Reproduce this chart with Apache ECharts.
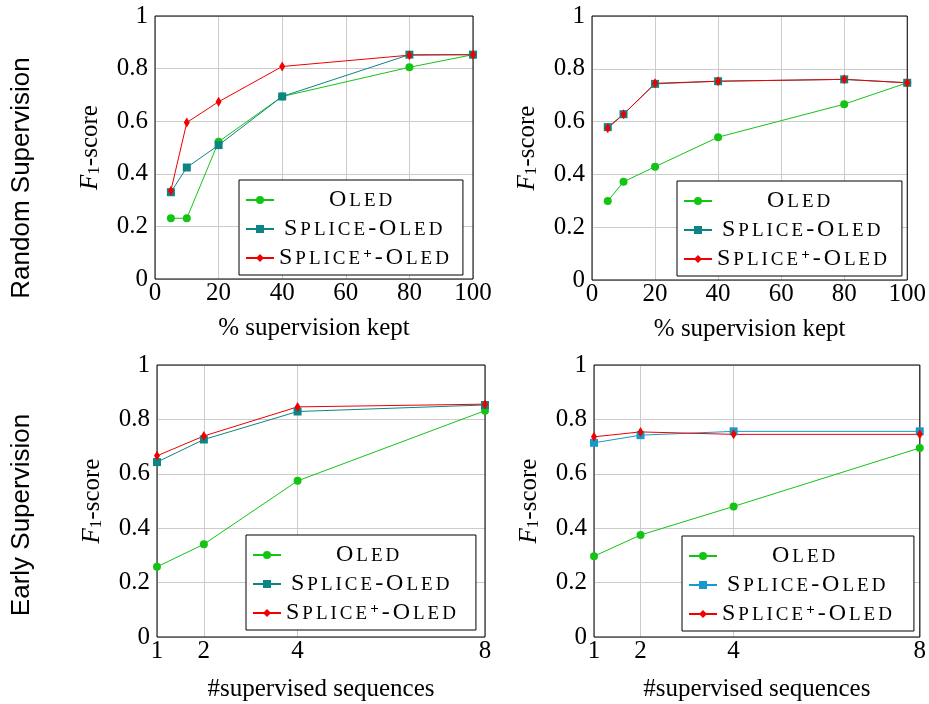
<!DOCTYPE html>
<html>
<head>
<meta charset="utf-8">
<script src="https://cdn.jsdelivr.net/npm/echarts@6/dist/echarts.min.js"></script>
<style>
  html, body { margin: 0; padding: 0; background: #fff; }
  #chart { width: 929px; height: 704px; }
</style>
</head>
<body>
<div id="chart"></div>
<script>
// x positions
var keptPct = [5, 10, 20, 40, 80, 100];
var seqCount = [1, 2, 4, 8];
var keptTicks = [0, 20, 40, 60, 80, 100];
var seqTicks = [1, 2, 4, 8];

// random supervision, left panel
var randAOled = [0.231, 0.231, 0.522, 0.694, 0.805, 0.853];
var randASplice = [0.330, 0.424, 0.509, 0.694, 0.853, 0.853];
var randASplicePlus = [0.336, 0.595, 0.674, 0.808, 0.851, 0.853];

// random supervision, right panel
var randBOled = [0.299, 0.372, 0.429, 0.541, 0.666, 0.747];
var randBSplice = [0.579, 0.628, 0.743, 0.753, 0.760, 0.747];
var randBSplicePlus = [0.575, 0.628, 0.745, 0.753, 0.760, 0.747];

// early supervision, left panel
var earlyAOled = [0.258, 0.341, 0.574, 0.832];
var earlyASplice = [0.643, 0.726, 0.829, 0.853];
var earlyASplicePlus = [0.666, 0.739, 0.846, 0.856];

// early supervision, right panel
var earlyBOled = [0.297, 0.375, 0.480, 0.695];
var earlyBSplice = [0.714, 0.742, 0.756, 0.756];
var earlyBSplicePlus = [0.736, 0.754, 0.745, 0.745];

var rowLabels = ["Random Supervision", "Early Supervision"];
var xNames = ["% supervision kept", "#supervised sequences"];

var SERIF = "Liberation Serif";
var GREEN = "#14c414";
var TEAL = "#0e8585";
var BLUE = "#1799cc";
var RED = "#f00000";
var DIAMOND = "path://M0,-5L3,0L0,5L-3,0Z";

// small caps: upper case stays big, lower case becomes a smaller capital
function smallCaps(word) {
  var out = "";
  for (var i = 0; i < word.length; i++) {
    var ch = word[i];
    if (ch === "+") out += "{sup|+}";
    else if (ch === "-") out += "{B|-}";
    else if (ch === ch.toUpperCase()) out += "{B|" + ch + "}";
    else out += "{s|" + ch.toUpperCase() + "}";
  }
  return out;
}

var legendText = {
  oled: "{pad0|}" + smallCaps("Oled"),
  splice: "{pad1|}" + smallCaps("Splice-Oled"),
  plus: smallCaps("Splice+-Oled")
};

var legendRich = {
  B: { fontFamily: SERIF, fontSize: 24, lineHeight: 22, color: "#000", padding: [0, 3, 0, 0] },
  s: { fontFamily: SERIF, fontSize: 19, lineHeight: 22, color: "#000", padding: [0, 3, 0, 0], verticalAlign: "bottom" },
  sup: { fontFamily: SERIF, fontSize: 15, fontWeight: "bold", lineHeight: 14, color: "#000", padding: [0, 3, 0, 0], verticalAlign: "top" },
  pad0: { width: 50 },
  pad1: { width: 5 }
};

var panels = [
  { left: 155, top: 16, width: 318, height: 263, xs: keptPct, ticks: keptTicks, xmin: 0, xmax: 100, xname: 0, nameGap: 37,
    oled: randAOled, splice: randASplice, plus: randASplicePlus, spliceColor: TEAL, legend: [239, 180], padRight: 11 },
  { left: 592, top: 16, width: 318, height: 264, xs: keptPct, ticks: keptTicks, xmin: 0, xmax: 100, xname: 0, nameGap: 37,
    oled: randBOled, splice: randBSplice, plus: randBSplicePlus, spliceColor: TEAL, legend: [677, 181], padRight: 12 },
  { left: 157, top: 365, width: 328, height: 272, xs: seqCount, ticks: seqTicks, xmin: 1, xmax: 8, xname: 1, nameGap: 40,
    oled: earlyAOled, splice: earlyASplice, plus: earlyASplicePlus, spliceColor: TEAL, legend: [246, 535], padRight: 17 },
  { left: 594, top: 365, width: 328, height: 272, xs: seqCount, ticks: seqTicks, xmin: 1, xmax: 8, xname: 1, nameGap: 40,
    oled: earlyBOled, splice: earlyBSplice, plus: earlyBSplicePlus, spliceColor: BLUE, legend: [682, 536], padRight: 19 }
];

function pairs(xs, ys) {
  return xs.map(function (x, i) { return [x, ys[i]]; });
}

var grid = [], xAxis = [], yAxis = [], series = [], legend = [];

panels.forEach(function (p, k) {
  grid.push({
    left: p.left, top: p.top, width: p.width, height: p.height,
    show: true, borderColor: "#000", borderWidth: 1, backgroundColor: "transparent", z: 1
  });
  xAxis.push({
    type: "value", gridIndex: k, min: p.xmin, max: p.xmax,
    name: xNames[p.xname], nameLocation: "middle", nameGap: p.nameGap,
    nameTextStyle: { fontFamily: SERIF, fontSize: 25, color: "#000" },
    axisLine: { show: false },
    axisTick: { show: false, customValues: p.ticks },
    axisLabel: { customValues: p.ticks, fontFamily: SERIF, fontSize: 25, color: "#000", margin: 2 },
    splitLine: { show: true, lineStyle: { color: "#cccccc", width: 1 } }
  });
  yAxis.push({
    type: "value", gridIndex: k, min: 0, max: 1, interval: 0.2,
    name: "{F|F}{sub|1}{t|-score}", nameLocation: "middle", nameGap: 52, nameRotate: 90,
    nameTextStyle: {
      rich: {
        F: { fontFamily: SERIF, fontStyle: "italic", fontSize: 25, lineHeight: 25, color: "#000" },
        sub: { fontFamily: SERIF, fontSize: 17, lineHeight: 17, color: "#000", verticalAlign: "bottom" },
        t: { fontFamily: SERIF, fontSize: 25, lineHeight: 25, color: "#000" }
      }
    },
    axisLine: { show: false },
    axisTick: { show: false },
    axisLabel: { fontFamily: SERIF, fontSize: 25, color: "#000", margin: 7 },
    splitLine: { show: true, lineStyle: { color: "#cccccc", width: 1 } }
  });

  var names = ["oled-" + k, "splice-" + k, "plus-" + k];
  series.push({
    name: names[0], type: "line", xAxisIndex: k, yAxisIndex: k,
    data: pairs(p.xs, p.oled), symbol: "circle", symbolSize: 8,
    color: GREEN, lineStyle: { width: 1, color: GREEN }, animation: false
  });
  series.push({
    name: names[1], type: "line", xAxisIndex: k, yAxisIndex: k,
    data: pairs(p.xs, p.splice), symbol: "rect", symbolSize: 8,
    color: p.spliceColor, lineStyle: { width: 1, color: p.spliceColor }, animation: false
  });
  series.push({
    name: names[2], type: "line", xAxisIndex: k, yAxisIndex: k,
    data: pairs(p.xs, p.plus), symbol: DIAMOND, symbolSize: 10, symbolKeepAspect: true,
    color: RED, lineStyle: { width: 1, color: RED }, animation: false
  });

  legend.push({
    data: names, orient: "vertical", left: p.legend[0], top: p.legend[1],
    itemWidth: 28, itemHeight: 10, itemGap: 5,
    padding: [8, p.padRight, 5, 6], borderColor: "#000", borderWidth: 1, backgroundColor: "#fff",
    selectedMode: false, z: 5,
    formatter: function (name) {
      return legendText[name.split("-")[0]];
    },
    textStyle: { fontFamily: SERIF, rich: legendRich }
  });
});

var chart = echarts.init(document.getElementById("chart"), null, { renderer: "canvas" });
chart.setOption({
  backgroundColor: "#fff",
  animation: false,
  textStyle: { fontFamily: SERIF },
  grid: grid,
  xAxis: xAxis,
  yAxis: yAxis,
  legend: legend,
  series: series,
  graphic: [
    { type: "text", x: 22, y: 178, rotation: Math.PI / 2,
      style: { text: rowLabels[0], font: "26px 'Liberation Sans', Arial, sans-serif", fill: "#000", align: "center", verticalAlign: "middle" } },
    { type: "text", x: 22, y: 515, rotation: Math.PI / 2,
      style: { text: rowLabels[1], font: "26px 'Liberation Sans', Arial, sans-serif", fill: "#000", align: "center", verticalAlign: "middle" } }
  ]
});
</script>
</body>
</html>
